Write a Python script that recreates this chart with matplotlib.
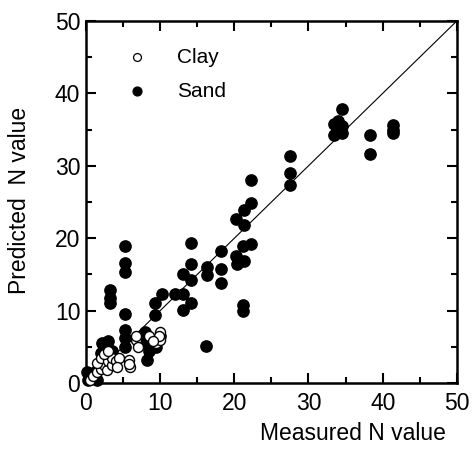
import matplotlib
matplotlib.use('Agg')
import matplotlib.pyplot as plt
from matplotlib.ticker import MultipleLocator

plt.rcParams['font.family'] = ['Liberation Sans', 'DejaVu Sans']

# sand (filled)
sand_x = [0.3, 0.5, 1.0, 1.2, 0.2, 1.5,
          2.2, 2.5, 3.0, 2.0, 3.2, 3.2, 3.2, 3.5,
          5.3, 5.3, 5.3, 5.3, 5.3, 5.3, 5.3,
          7.5, 8.0, 8.2, 8.5, 9.0, 8.0, 9.5, 10.0,
          9.3, 9.3, 10.2, 12.0, 13.1, 13.1, 14.2,
          13.1, 14.2, 14.2, 14.2, 16.3, 16.3, 16.2,
          18.2, 18.2, 18.2, 20.2, 21.3, 22.3, 21.3, 22.3,
          22.3, 21.2, 20.2, 20.3, 21.3, 21.2, 21.2,
          27.5, 27.5, 27.5,
          34.5, 34.0, 33.5, 34.5, 33.5, 34.5, 33.8,
          38.3, 38.3, 41.4, 41.4, 41.4]
sand_y = [0.5, 1.2, 0.8, 1.5, 1.6, 0.4,
          5.5, 4.8, 5.8, 4.2, 12.8, 11.8, 11.0, 4.5,
          19.0, 16.6, 15.3, 9.6, 7.3, 6.2, 5.0,
          6.5, 5.5, 3.2, 4.5, 6.0, 7.0, 5.0, 6.5,
          11.1, 9.4, 12.3, 12.3, 12.3, 10.1, 11.0,
          15.0, 14.2, 16.5, 19.4, 16.1, 14.9, 5.1,
          18.2, 15.7, 13.8, 22.6, 23.9, 24.9, 21.8, 28.0,
          19.2, 19.0, 17.5, 16.5, 16.9, 10.8, 10.0,
          31.4, 29.0, 27.3,
          37.8, 36.2, 35.8, 35.5, 34.2, 34.5, 35.0,
          34.3, 31.6, 35.6, 34.5, 34.9]

# clay (open)
clay_x = [0.5, 1.0, 1.5, 2.0, 2.5, 1.5, 2.0, 2.8, 3.0, 3.5, 3.5, 4.0, 4.5, 4.2, 2.5, 3.0,
          5.8, 5.9, 5.8, 6.8, 6.8, 7.0,
          9.5, 10.0, 10.0, 9.8, 8.5, 9.0]
clay_y = [0.5, 1.0, 1.5, 2.0, 2.5, 2.8, 3.5, 1.8, 3.0, 2.5, 3.5, 3.0, 3.5, 2.2, 4.0, 4.5,
          3.2, 2.2, 2.7, 5.9, 6.5, 5.0,
          5.5, 6.0, 7.0, 6.5, 6.5, 5.8]

fig = plt.figure(figsize=(4.72, 4.54), dpi=100)
ax = fig.add_axes([0.182, 0.156, 0.786, 0.798])

ax.plot([0, 50], [0, 50], color='black', lw=0.8, zorder=1)
ax.scatter(sand_x, sand_y, s=66, c='black', edgecolors='black', zorder=2, clip_on=False)
ax.scatter(clay_x, clay_y, s=52, facecolors='white', edgecolors='black', linewidths=1.0,
           zorder=3, clip_on=False)

# legend drawn by hand
ax.scatter([6.9], [45.0], s=32, facecolors='white', edgecolors='black', linewidths=0.9)
ax.scatter([6.9], [40.3], s=40, c='black')
ax.text(12.3, 45.0, 'Clay', fontsize=15, va='center')
ax.text(12.3, 40.3, 'Sand', fontsize=15, va='center')

ax.set_xlim(0, 50)
ax.set_ylim(0, 50)
ax.xaxis.set_major_locator(MultipleLocator(10))
ax.xaxis.set_minor_locator(MultipleLocator(5))
ax.yaxis.set_major_locator(MultipleLocator(10))
ax.yaxis.set_minor_locator(MultipleLocator(5))
ax.tick_params(which='both', direction='in', top=True, right=True, labelsize=16.5, width=1.5)
ax.tick_params(which='major', length=7)
ax.tick_params(which='minor', length=4)
ax.tick_params(axis='x', which='major', pad=6)
ax.tick_params(axis='y', which='major', pad=4)
for s in ax.spines.values():
    s.set_linewidth(1.8)

ax.set_xlabel('Measured N value', fontsize=16.5, ha='right', va='center')
ax.xaxis.set_label_coords(0.970, -0.138)
ax.set_ylabel('Predicted  N value', fontsize=16.5, va='center')
ax.yaxis.set_label_coords(-0.178, 0.505)

fig.savefig('out.png', dpi=100)
